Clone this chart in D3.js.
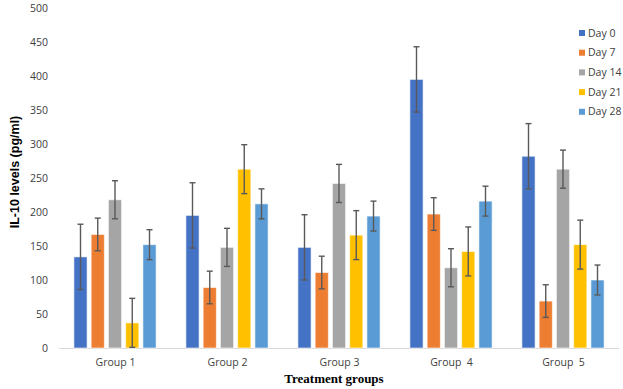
<!DOCTYPE html>
<html>
<head>
<meta charset="utf-8">
<script src="https://cdn.jsdelivr.net/npm/d3@7"></script>
<style>
  body { margin: 0; background: #fff; }
  svg { display: block; }
</style>
</head>
<body>
<svg id="chart" width="623" height="389"></svg>
<script>
// values, pg/ml
const groups = ['Group 1', 'Group 2', 'Group 3', 'Group  4', 'Group  5']
const days = ['Day 0', 'Day 7', 'Day 14', 'Day 21', 'Day 28']
const day0 = [134, 195, 148, 395, 282]
const day7 = [167, 89, 111, 197, 69]
const day14 = [218, 148, 242, 118, 263]
const day21 = [37, 263, 166, 142, 152]
const day28 = [152, 212, 194, 216, 100]
const errors = [48, 24, 28, 36, 22]
const yTicks = [0, 50, 100, 150, 200, 250, 300, 350, 400, 450, 500]
const colors = ['#4472C4', '#ED7D31', '#A5A5A5', '#FFC000', '#5B9BD5']

const series = [day0, day7, day14, day21, day28]
const rows = groups.map((g, i) => ({
  group: g,
  bars: days.map((d, j) => ({ day: d, value: series[j][i], err: errors[j] }))
}))

const margin = { top: 8, right: 4, bottom: 41, left: 59 }
const width = 619 - margin.left
const height = 348 - margin.top

const svg = d3.select('#chart')
const chart = svg.append('g')
  .attr('transform', `translate(${margin.left}, ${margin.top})`)

const yScale = d3.scaleLinear()
  .domain([0, 500])
  .range([height, 0])

const xScale = d3.scaleBand()
  .domain(groups)
  .range([0, width])
  .paddingInner(0.266)
  .paddingOuter(0.133)

const xInner = d3.scaleBand()
  .domain(days)
  .range([0, xScale.bandwidth()])
  .paddingInner(0.235)

// y ticks, no axis line
chart.append('g')
  .call(d3.axisLeft(yScale).tickValues(yTicks).tickSize(0).tickPadding(11))
  .call(g => g.select('.domain').remove())
  .selectAll('text')
    .style('font-family', 'Open Sans, Liberation Sans, sans-serif')
    .style('font-size', '10.5px')
    .attr('fill', '#404040')

// x axis line + group labels
const band = xScale.step()
chart.append('g')
  .attr('transform', `translate(0, ${height})`)
  .call(d3.axisBottom(d3.scalePoint().domain(groups).range([band / 2, width - band / 2]))
    .tickSize(0).tickPadding(11))
  .call(g => g.select('.domain')
    .attr('d', `M0,0.5H${width}`)
    .attr('stroke', '#d9d9d9')
    .attr('stroke-width', 1.2))
  .selectAll('text')
    .style('font-family', 'Open Sans, Liberation Sans, sans-serif')
    .style('font-size', '10.5px')
    .style('white-space', 'pre')
    .attr('fill', '#404040')

const grp = chart.append('g')
  .selectAll('g')
  .data(rows)
  .enter()
  .append('g')
    .attr('transform', d => `translate(${xScale(d.group)}, 0)`)

grp.selectAll('rect')
  .data(d => d.bars)
  .enter()
  .append('rect')
    .attr('x', d => xInner(d.day))
    .attr('y', d => yScale(d.value))
    .attr('width', xInner.bandwidth())
    .attr('height', d => height - yScale(d.value))
    .attr('fill', (d, i) => colors[i])
    .attr('stroke', '#ffffff')
    .attr('stroke-opacity', 0.6)
    .attr('stroke-width', 1)

// error bars
const eb = grp.selectAll('g.err')
  .data(d => d.bars)
  .enter()
  .append('g')
    .attr('class', 'err')
    .attr('stroke', '#595959')
    .attr('stroke-width', 1.4)

const cx = d => xInner(d.day) + xInner.bandwidth() / 2
const lo = d => yScale(Math.max(0, d.value - d.err))
const hi = d => yScale(d.value + d.err)

eb.append('line')
  .attr('x1', cx).attr('x2', cx)
  .attr('y1', lo).attr('y2', hi)
eb.append('line')
  .attr('x1', d => cx(d) - 3).attr('x2', d => cx(d) + 3)
  .attr('y1', hi).attr('y2', hi)
eb.append('line')
  .attr('x1', d => cx(d) - 3).attr('x2', d => cx(d) + 3)
  .attr('y1', lo).attr('y2', lo)

// legend
const legend = svg.append('g')
  .attr('transform', 'translate(579, 33)')
const item = legend.selectAll('g')
  .data(days)
  .enter()
  .append('g')
    .attr('transform', (d, i) => `translate(0, ${i * 19.7})`)
item.append('rect')
  .attr('x', 0).attr('y', -3)
  .attr('width', 6).attr('height', 6)
  .attr('fill', (d, i) => colors[i])
item.append('text')
  .attr('x', 9)
  .attr('dy', '0.35em')
  .style('font-family', 'Open Sans, Liberation Sans, sans-serif')
  .style('font-size', '10.5px')
  .attr('fill', '#404040')
  .text(d => d)

// axis titles
svg.append('text')
  .attr('transform', 'translate(19, 172) rotate(-90)')
  .attr('text-anchor', 'middle')
  .style('font-family', 'Liberation Sans, Arial, sans-serif')
  .style('font-weight', 'bold')
  .style('font-size', '12.5px')
  .attr('fill', '#000')
  .text('IL-10 levels (pg/ml)')

svg.append('text')
  .attr('x', 334)
  .attr('y', 383)
  .attr('text-anchor', 'middle')
  .style('font-family', 'Liberation Serif, Times New Roman, serif')
  .style('font-weight', 'bold')
  .style('font-size', '13px')
  .attr('fill', '#000')
  .text('Treatment groups')
</script>
</body>
</html>
